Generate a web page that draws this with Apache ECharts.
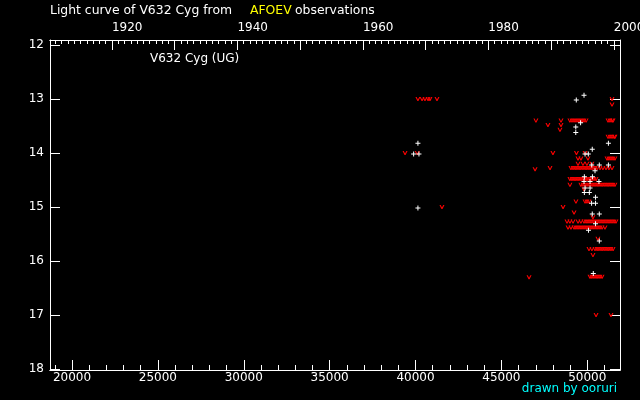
<!DOCTYPE html>
<html>
<head>
<meta charset="utf-8">
<script src="https://cdn.jsdelivr.net/npm/echarts@6/dist/echarts.min.js"></script>
<style>
html,body{margin:0;padding:0;background:#000;}
#c{width:640px;height:400px;}
</style>
</head>
<body>
<div id="c"></div>
<script>
// JD - 2400000 axis ticks
const jdMajorTicks = [20000, 25000, 30000, 35000, 40000, 45000, 50000];
const jdMinorTicks = [19000,20000,21000,22000,23000,24000,25000,26000,27000,28000,29000,30000,31000,32000,33000,34000,35000,36000,37000,38000,39000,40000,41000,42000,43000,44000,45000,46000,47000,48000,49000,50000,51000];
const magTicks = [12, 13, 14, 15, 16, 17, 18];
const yearLabels = [1920, 1940, 1960, 1980, 2000];
const yearMajorTicks = [1920, 1930, 1940, 1950, 1960, 1970, 1980, 1990, 2000];
const yearMinorStart = 1911, yearMinorEnd = 2001;

// positive (visual) observations: [JD-2400000, magnitude]
const visualObs = [
  [40140,13.82],[39890,14.02],[40200,14.02],[40140,15.02],
  [49810,12.93],[49360,13.02],[49610,13.44],[49330,13.52],[49330,13.62],
  [51230,13.82],[50290,13.93],[49870,14.02],[50060,14.02],
  [50260,14.22],[50700,14.22],[51230,14.22],[50450,14.33],
  [49830,14.44],[50300,14.44],[49810,14.53],[50160,14.53],[50680,14.53],
  [49870,14.65],[50160,14.65],[49830,14.73],[50120,14.73],[50480,14.82],
  [50250,14.93],[50480,14.93],[50290,15.13],[50700,15.13],[50480,15.31],
  [50070,15.43],[50700,15.63],[50350,16.23]
];

// "fainter than" observations: [JD-2400000, magnitude]
const fainterObs = [
  [40140,13.0],[40380,13.0],[40550,13.0],[40730,13.0],[40840,13.0],[41250,13.0],
  [39390,14.0],[40100,14.0],[41540,15.0],
  [47010,13.4],[46960,14.3],[46610,16.3],
  [51440,13.0],[51440,13.1],
  [47710,13.48],[48470,13.4],[48470,13.48],[48410,13.57],
  [48990,13.4],[49110,13.4],[49230,13.4],[49340,13.4],[49460,13.4],[49580,13.4],[49690,13.4],[49810,13.4],[49930,13.4],
  [51210,13.4],[51320,13.4],[51440,13.4],[51500,13.4],
  [51210,13.7],[51320,13.7],[51440,13.7],[51560,13.7],[51610,13.7],
  [48000,14.0],[49370,14.0],[49870,14.0],
  [49460,14.1],[49630,14.1],[50040,14.1],
  [51150,14.1],[51260,14.1],[51380,14.1],[51500,14.1],[51610,14.1],
  [49460,14.2],[49750,14.2],[49980,14.2],[50270,14.2],
  [47830,14.28],
  [49050,14.28],[49170,14.28],[49290,14.28],[49400,14.28],[49520,14.28],[49630,14.28],[49750,14.28],[49870,14.28],[49980,14.28],[50100,14.28],[50220,14.28],[50330,14.28],[50450,14.28],[50570,14.28],
  [50740,14.28],[50910,14.28],[51090,14.28],[51260,14.28],[51440,14.28],
  [48990,14.48],[49110,14.48],[49230,14.48],[49340,14.48],[49460,14.48],[49580,14.48],[49690,14.48],[49810,14.48],[49930,14.48],[50040,14.48],[50160,14.48],[50270,14.48],[50390,14.48],[50510,14.48],
  [48990,14.59],
  [49630,14.59],[49750,14.59],[49870,14.59],[49980,14.59],[50100,14.59],[50220,14.59],[50330,14.59],[50450,14.59],[50570,14.59],[50680,14.59],[50800,14.59],[50910,14.59],[51030,14.59],[51150,14.59],[51260,14.59],[51380,14.59],[51500,14.59],[51610,14.59],
  [49810,14.67],
  [49340,14.9],[49870,14.9],[49980,14.9],[50100,14.9],
  [48590,15.0],[49230,15.1],[50330,15.19],
  [48820,15.27],[48990,15.27],[49170,15.27],[49460,15.27],[49630,15.27],
  [49810,15.27],[49930,15.27],[50040,15.27],[50160,15.27],[50270,15.27],[50390,15.27],[50510,15.27],[50620,15.27],[50740,15.27],[50860,15.27],[50970,15.27],[51090,15.27],[51210,15.27],[51320,15.27],[51440,15.27],[51560,15.27],[51670,15.27],
  [48880,15.38],[49050,15.38],
  [49230,15.38],[49340,15.38],[49460,15.38],[49580,15.38],[49690,15.38],[49810,15.38],[49930,15.38],[50040,15.38],[50160,15.38],[50270,15.38],[50390,15.38],[50510,15.38],[50620,15.38],[50740,15.38],[50860,15.38],[51030,15.38],
  [50620,15.59],
  [50100,15.78],[50270,15.78],[50450,15.78],
  [50570,15.78],[50680,15.78],[50800,15.78],[50910,15.78],[51030,15.78],[51150,15.78],[51260,15.78],[51380,15.78],[51500,15.78],
  [50330,15.89],
  [50160,16.29],[50270,16.29],[50390,16.29],[50510,16.29],[50620,16.29],[50740,16.29],[50860,16.29],
  [50510,17.0],[51380,17.0]
];

function yearToJD(y) { return 15020 + (y - 1900) * 365.25; }
function jdToYear(v) { return Math.round((v - 15020) / 365.25 + 1900); }
const yearMinorTicks = [];
for (let y = yearMinorStart; y <= yearMinorEnd; y++) yearMinorTicks.push(yearToJD(y));

const X_MIN = 18719, X_MAX = 51905;
const Y_MIN = 11.907, Y_MAX = 18.019;
const FONT = 'DejaVu Sans';
const white = '#ffffff';

const chart = echarts.init(document.getElementById('c'), null, {renderer: 'canvas'});

function baseX(extra) {
  return Object.assign({
    type: 'value', min: X_MIN, max: X_MAX, gridIndex: 0,
    axisLine: {show: true, lineStyle: {color: white, width: 1}},
    splitLine: {show: false},
  }, extra);
}

const option = {
  backgroundColor: '#000000',
  animation: false,
  grid: {left: 50, right: 20, top: 40, bottom: 30, containLabel: false, outerBoundsMode: 'none', show: false},
  xAxis: [
    baseX({
      position: 'bottom',
      axisTick: {show: true, inside: true, length: 10, customValues: jdMajorTicks, lineStyle: {color: white}},
      axisLabel: {show: true, customValues: jdMajorTicks, formatter: v => String(v), color: white, fontFamily: FONT, fontSize: 12, margin: 2}
    }),
    baseX({
      position: 'bottom',
      axisTick: {show: true, inside: true, length: 5, customValues: jdMinorTicks, lineStyle: {color: white}},
      axisLabel: {show: false}
    }),
    baseX({
      position: 'top',
      axisTick: {show: true, inside: true, length: 10, customValues: yearMajorTicks.map(yearToJD), lineStyle: {color: white}},
      axisLabel: {show: true, customValues: yearLabels.map(yearToJD), formatter: v => String(jdToYear(v)),
        align: 'left', color: white, fontFamily: FONT, fontSize: 12, margin: 6}
    }),
    baseX({
      position: 'top',
      axisTick: {show: true, inside: true, length: 4, customValues: yearMinorTicks, lineStyle: {color: white}},
      axisLabel: {show: false}
    })
  ],
  yAxis: [
    {
      type: 'value', inverse: true, min: Y_MIN, max: Y_MAX, position: 'left',
      axisLine: {show: true, lineStyle: {color: white}},
      axisTick: {show: true, inside: true, length: 10, customValues: magTicks, lineStyle: {color: white}},
      axisLabel: {show: true, customValues: magTicks, color: white, fontFamily: FONT, fontSize: 12, margin: 6},
      splitLine: {show: false}
    },
    {
      type: 'value', inverse: true, min: Y_MIN, max: Y_MAX, position: 'right',
      axisLine: {show: true, lineStyle: {color: white}},
      axisTick: {show: true, inside: true, length: 10, customValues: magTicks, lineStyle: {color: white}},
      axisLabel: {show: false},
      splitLine: {show: false}
    }
  ],
  graphic: [
    {type: 'text', left: 50, top: 5, style: {text: 'Light curve of V632 Cyg from', fill: white, font: '12.4px ' + FONT}},
    {type: 'text', left: 250, top: 5, style: {text: 'AFOEV', fill: '#ffff00', font: '12.4px ' + FONT}},
    {type: 'text', left: 295, top: 5, style: {text: 'observations', fill: white, font: '12.4px ' + FONT}},
    {type: 'text', left: 150, top: 53, style: {text: 'V632 Cyg (UG)', fill: white, font: '12px ' + FONT}},
    {type: 'text', right: 23, top: 383, style: {text: 'drawn by ooruri', fill: '#00ffff', font: '12px ' + FONT}}
  ],
  series: [
    {
      name: 'fainter', type: 'scatter', xAxisIndex: 0, yAxisIndex: 0,
      symbol: 'path://M0,0L1.2,0L2.5,2.2L3.8,0L5,0L3,3.4L2,3.4Z',
      symbolSize: [5, 4], itemStyle: {color: '#ff0000', opacity: 1},
      data: fainterObs, silent: true
    },
    {
      name: 'visual', type: 'scatter', xAxisIndex: 0, yAxisIndex: 0,
      symbol: 'path://M2,0H3V2H5V3H3V5H2V3H0V2H2Z',
      symbolSize: [5, 5], itemStyle: {color: white, opacity: 1},
      data: visualObs, silent: true
    }
  ]
};
chart.setOption(option);
</script>
</body>
</html>
